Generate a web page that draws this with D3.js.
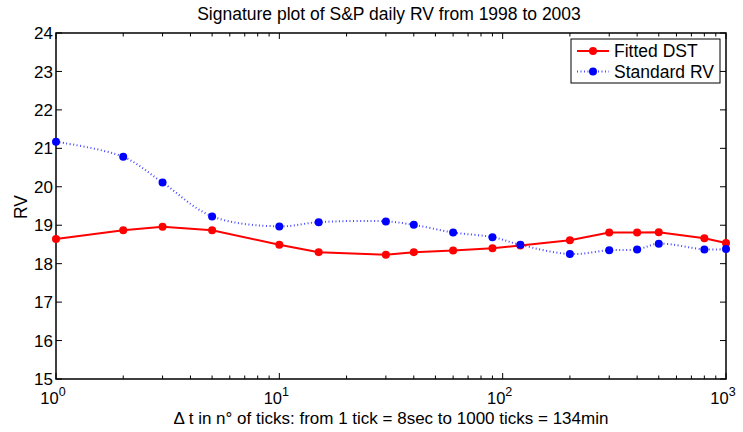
<!DOCTYPE html>
<html>
<head>
<meta charset="utf-8">
<script src="https://cdn.jsdelivr.net/npm/d3@7"></script>
<style>
  body { margin: 0; background: #fff; }
  text { font-family: "Liberation Sans", Arial, sans-serif; }
</style>
</head>
<body>
<div id="chart"></div>
<script>
// data
var ticks = [1, 2, 3, 5, 10, 15, 30, 40, 60, 90, 120, 200, 300, 400, 500, 800, 1000];
var fittedDST = [18.64, 18.87, 18.96, 18.87, 18.49, 18.30, 18.23, 18.30, 18.34, 18.40, 18.47, 18.61, 18.81, 18.81, 18.82, 18.66, 18.54];
var standardRV = [21.17, 20.78, 20.11, 19.23, 18.97, 19.08, 19.10, 19.01, 18.81, 18.69, 18.49, 18.25, 18.35, 18.37, 18.52, 18.37, 18.38];
var yTicks = [15, 16, 17, 18, 19, 20, 21, 22, 23, 24];
var xTicks = [1, 10, 100, 1000];
var seriesNames = ["Fitted DST", "Standard RV"];

// set the dimensions and margins of the graph
var margin = { top: 33, right: 17, bottom: 53, left: 56 },
  W = 743, H = 432,
  width = W - margin.left - margin.right,
  height = H - margin.top - margin.bottom;

var root = d3.select("#chart").append("svg")
  .attr("width", W)
  .attr("height", H);

var svg = root.append("g")
  .attr("transform", "translate(" + margin.left + "," + margin.top + ")");

var x = d3.scaleLog().domain([1, 1000]).range([0, width]);
var y = d3.scaleLinear().domain([15, 24]).range([height, 0]);

// minor log ticks
var minor = [];
[1, 10, 100].forEach(function (d) {
  for (var k = 2; k <= 9; k++) minor.push(d * k);
});

// ticks on all four sides, pointing inward
function tickMarks(g, vals, len, horiz) {
  vals.forEach(function (v) {
    if (horiz) {
      g.append("line").attr("x1", x(v)).attr("x2", x(v)).attr("y1", height).attr("y2", height - len);
      g.append("line").attr("x1", x(v)).attr("x2", x(v)).attr("y1", 0).attr("y2", len);
    } else {
      g.append("line").attr("x1", 0).attr("x2", len).attr("y1", y(v)).attr("y2", y(v));
      g.append("line").attr("x1", width).attr("x2", width - len).attr("y1", y(v)).attr("y2", y(v));
    }
  });
}
var tg = svg.append("g").attr("stroke", "#000").attr("stroke-width", 1);
tickMarks(tg, xTicks, 6, true);
tickMarks(tg, minor, 3.5, true);
tickMarks(tg, yTicks, 6, false);

// frame
svg.append("rect")
  .attr("width", width).attr("height", height)
  .attr("fill", "none").attr("stroke", "#000").attr("stroke-width", 1.5);

// y labels
svg.selectAll(".ylab").data(yTicks).enter().append("text")
  .attr("x", -3).attr("y", function (d) { return y(d); })
  .attr("dy", "0.36em")
  .attr("text-anchor", "end")
  .style("font-size", "17px")
  .text(function (d) { return d; });

// x labels 10^n
xTicks.forEach(function (d, i) {
  var t = svg.append("text")
    .attr("x", x(d) - 3).attr("y", height + 25)
    .attr("text-anchor", "middle")
    .style("font-size", "16.5px");
  t.append("tspan").text("10");
  t.append("tspan").attr("dy", -8).style("font-size", "12.5px").text(i);
});

// lines
var line = d3.line()
  .x(function (d) { return x(d[0]); })
  .y(function (d) { return y(d[1]); });

var redData = ticks.map(function (t, i) { return [t, fittedDST[i]]; });
var blueData = ticks.map(function (t, i) { return [t, standardRV[i]]; });

svg.append("path")
  .attr("d", line.curve(d3.curveCatmullRom.alpha(0.5))(blueData))
  .attr("fill", "none").attr("stroke", "#4a4aff")
  .attr("stroke-width", 2).attr("stroke-dasharray", "1,2.5");

svg.append("path")
  .attr("d", line.curve(d3.curveLinear)(redData))
  .attr("fill", "none").attr("stroke", "#ff0000").attr("stroke-width", 2);

svg.selectAll(".rdot").data(redData).enter().append("circle")
  .attr("cx", function (d) { return x(d[0]); })
  .attr("cy", function (d) { return y(d[1]); })
  .attr("r", 4).attr("fill", "#ff0000");

svg.selectAll(".bdot").data(blueData).enter().append("circle")
  .attr("cx", function (d) { return x(d[0]); })
  .attr("cy", function (d) { return y(d[1]); })
  .attr("r", 4).attr("fill", "#0000ff");

// title and axis labels
root.append("text")
  .attr("x", 389).attr("y", 20)
  .attr("text-anchor", "middle").style("font-size", "17.5px")
  .text("Signature plot of S&P daily RV from 1998 to 2003");

root.append("text")
  .attr("x", 391).attr("y", 423.5)
  .attr("text-anchor", "middle").style("font-size", "17px")
  .text("\u0394 t in n\u00b0 of ticks: from 1 tick = 8sec to 1000 ticks = 134min");

root.append("text")
  .attr("transform", "translate(27,207)rotate(-90)")
  .attr("text-anchor", "middle").style("font-size", "17.5px")
  .text("RV");

// legend
var lg = root.append("g").attr("transform", "translate(571,39)");
lg.append("rect").attr("width", 149).attr("height", 44)
  .attr("fill", "#fff").attr("stroke", "#000").attr("stroke-width", 1);
seriesNames.forEach(function (name, i) {
  var cy = 12 + i * 20.5;
  var col = i === 0 ? "#ff0000" : "#0000ff";
  lg.append("line").attr("x1", 6).attr("x2", 38).attr("y1", cy).attr("y2", cy)
    .attr("stroke", i === 0 ? col : "#4a4aff").attr("stroke-width", 2)
    .attr("stroke-dasharray", i === 0 ? null : "1,2.5");
  lg.append("circle").attr("cx", 22).attr("cy", cy).attr("r", 4).attr("fill", col);
  lg.append("text").attr("x", 43).attr("y", cy).attr("dy", "0.36em")
    .style("font-size", "17.5px").text(name);
});
</script>
</body>
</html>
